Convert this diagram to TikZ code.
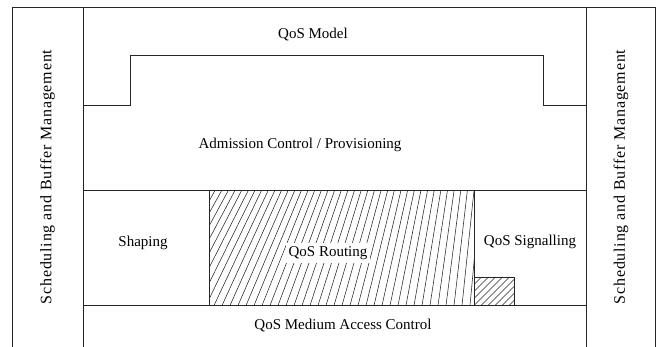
\documentclass[tikz,border=0pt]{standalone}
\usepackage{fontspec}
\setmainfont{Liberation Serif}
\tikzset{
  frame/.style={draw=black!85, line width=0.9pt},
  hatch/.style={draw=black!85, line width=0.55pt},
  lbl/.style={font=\fontsize{15}{18}\selectfont, inner sep=1pt},
  side/.style={font=\fontsize{16}{19}\selectfont\addfontfeature{LetterSpace=5}, rotate=90, inner sep=1pt},
}
\begin{document}
\begin{tikzpicture}[x=1pt,y=-1pt]
\useasboundingbox (0,0) rectangle (659,347);
% hatching of QoS Routing
\begin{scope}
  \clip (209,190.5) rectangle (474,305.5);
  \foreach \b in {150,158,...,484} {
    \pgfmathsetmacro\t{\b+55-(\b-209)*0.17}
    \draw[hatch] (\b,305.5) -- (\t,190.5);
  }
\end{scope}
% hatching of small box
\begin{scope}
  \clip (474,277) rectangle (514,305.5);
  \foreach \b in {446,453,...,520} {
    \draw[hatch] (\b,305.5) -- (\b+28.5,277);
  }
\end{scope}
% frame
\draw[frame] (12,347) -- (12,7) -- (655,7) -- (655,347);
\draw[frame] (83,7) -- (83,347);
\draw[frame] (586,7) -- (586,347);
\draw[frame] (83,105) -- (130,105) -- (130,55.5) -- (543,55.5) -- (543,105) -- (586,105);
\draw[frame] (83,190.5) -- (586,190.5);
\draw[frame] (83,305.5) -- (586,305.5);
\draw[frame] (209,190.5) -- (209,305.5);
\draw[frame] (474,190.5) -- (474,305.5);
\draw[frame] (474,277) -- (514,277) -- (514,305.5);
% labels
\node[lbl] (model) at (313,35) {QoS Model};
\node[lbl] (adm) at (300,145) {Admission Control / Provisioning};
\node[lbl] (shaping) at (143,243) {Shaping};
\node[lbl, fill=white, inner sep=3pt] (routing) at (328,253) {QoS Routing};
\node[lbl] (signal) at (530,242) {QoS Signalling};
\node[lbl] (mac) at (343,326) {QoS Medium Access Control};
\node[side] (sbmL) at (47.5,177) {Scheduling and Buffer Management};
\node[side] (sbmR) at (621,177) {Scheduling and Buffer Management};
\end{tikzpicture}
\end{document}
